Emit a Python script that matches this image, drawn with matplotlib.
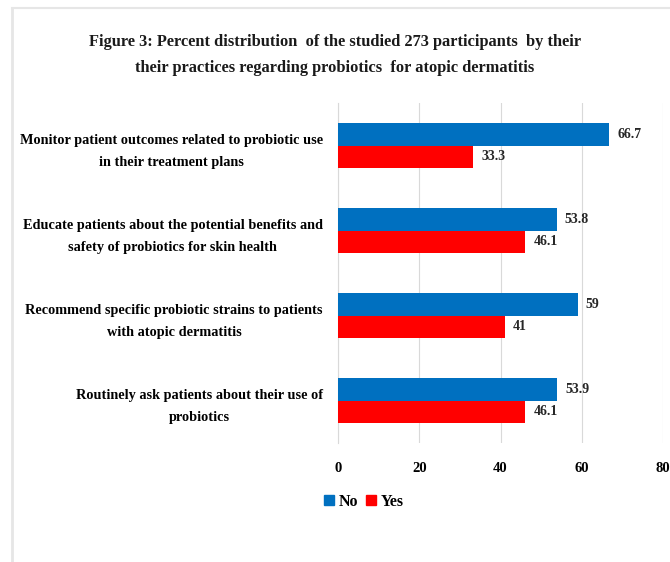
import numpy as np
import matplotlib
matplotlib.use('Agg')
from matplotlib import pyplot as plt
from matplotlib.lines import Line2D
from matplotlib.patches import Patch

# Practices towards probiotics, percent of 273 participants
practices = ['Monitor patient outcomes related to probiotic use\nin their treatment plans',
             'Educate patients about the potential benefits and\nsafety of probiotics for skin health',
             'Recommend specific probiotic strains to patients\nwith atopic dermatitis',
             'Routinely ask patients about their use of\nprobiotics']
no_pct = [66.7, 53.8, 59, 53.9]
yes_pct = [33.3, 46.1, 41, 46.1]
no_text = ['66.7', '53.8', '59', '53.9']
yes_text = ['33.3', '46.1', '41', '46.1']
x_ticks = [0, 20, 40, 60, 80]

BLUE = '#0070C0'
RED = '#FF0000'
FONT = 'Liberation Serif'

plt.rcParams['font.family'] = FONT

fig = plt.figure(figsize=(6.7, 5.62), dpi=100)
W, H = 670, 562
ax = fig.add_axes([338 / W, 1 - 443 / H, (663 - 338) / W, (443 - 103) / H])

y = np.arange(len(practices))
bar_h = 0.27
ax.barh(y - bar_h / 2, no_pct, height=bar_h, color=BLUE, label='No', zorder=3)
ax.barh(y + bar_h / 2, yes_pct, height=bar_h, color=RED, label='Yes', zorder=3)

for i in range(len(practices)):
    ax.text(no_pct[i] + 2.0, y[i] - bar_h / 2, no_text[i], va='center', ha='left',
            fontsize=10, fontweight='bold', color='#262626')
    ax.text(yes_pct[i] + 2.0, y[i] + bar_h / 2, yes_text[i], va='center', ha='left',
            fontsize=10, fontweight='bold', color='#262626')

ax.set_ylim(len(practices) - 0.5, -0.5)
ax.set_xlim(0, 80)
ax.set_xticks(x_ticks)
ax.set_yticks(y)
ax.set_yticklabels(practices, fontsize=10.3, fontweight='bold', multialignment='center',
                   linespacing=1.9)
for lab in ax.get_xticklabels():
    lab.set_fontsize(10.5)
    lab.set_fontweight('bold')
ax.tick_params(axis='y', length=0, pad=11)
ax.tick_params(axis='x', length=0, pad=14)

ax.grid(axis='x', color='#d9d9d9', linewidth=0.8, zorder=0)
for side in ['top', 'right', 'bottom']:
    ax.spines[side].set_visible(False)
ax.spines['left'].set_color('#d9d9d9')

fig.text(0.5, 1 - 42 / H, 'Figure 3: Percent distribution  of the studied 273 participants  by their',
         ha='center', va='center', fontsize=11.8, fontweight='bold', color='#1a1a1a')
fig.text(0.5, 1 - 68 / H, 'their practices regarding probiotics  for atopic dermatitis',
         ha='center', va='center', fontsize=11.8, fontweight='bold', color='#1a1a1a')

handles = [Patch(color=BLUE, label='No'), Patch(color=RED, label='Yes')]
fig.legend(handles=handles, loc='center left', bbox_to_anchor=(310 / W, 1 - 502 / H), ncol=2,
           frameon=False, handlelength=0.6, handleheight=0.6, handletextpad=0.3,
           columnspacing=0.5, prop={'family': FONT, 'weight': 'bold', 'size': 11.5})

# Light frame on the left and top edges
fig.add_artist(Line2D([12 / W, 12 / W], [0, 1 - 8 / H], color='#e6e6e6', linewidth=2))
fig.add_artist(Line2D([12 / W, 1], [1 - 8 / H, 1 - 8 / H], color='#e6e6e6', linewidth=1.5))

fig.savefig('out.png', dpi=100)
